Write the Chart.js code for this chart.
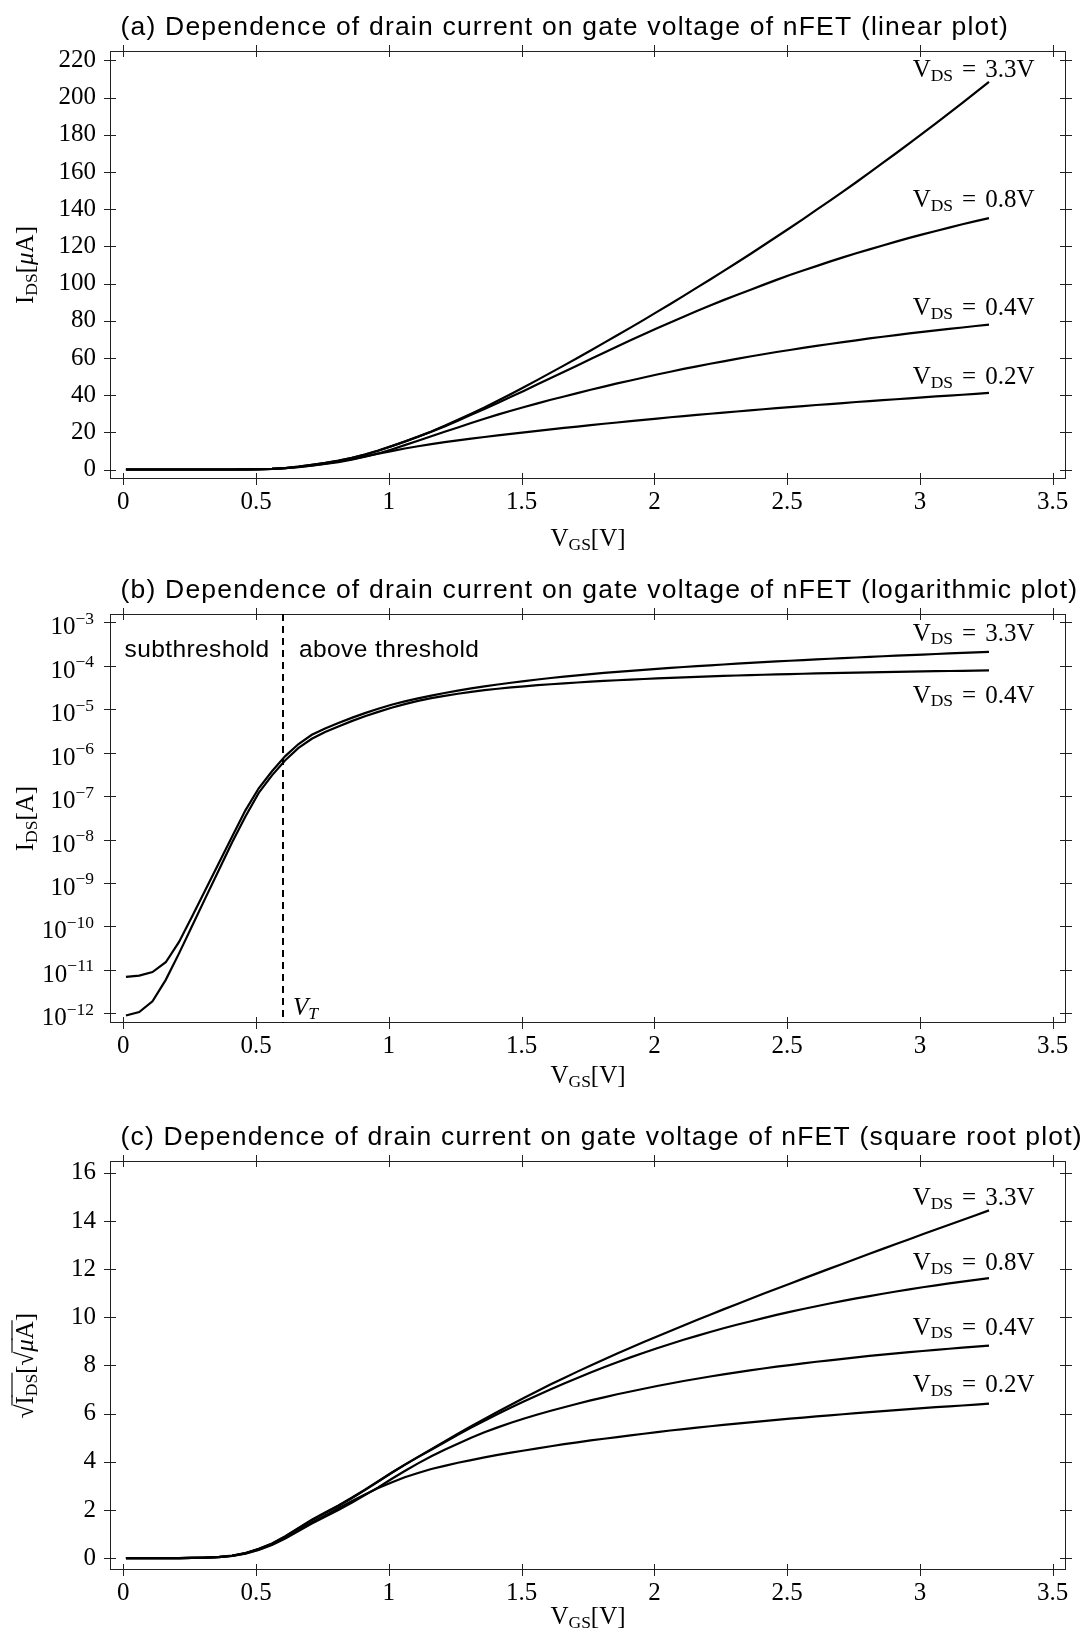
<!DOCTYPE html>
<html>
<head>
<meta charset="utf-8">
<script src="https://cdn.jsdelivr.net/npm/chart.js@4.4.1/dist/chart.umd.min.js"></script>
<style>
  body { margin: 0; background: #fff; }
  .panel { position: absolute; left: 0; width: 1085px; }
</style>
</head>
<body>
<div class="panel" style="top:0;height:560px"><canvas id="linear" width="1085" height="560"></canvas></div>
<div class="panel" style="top:560px;height:540px"><canvas id="log" width="1085" height="540"></canvas></div>
<div class="panel" style="top:1100px;height:529px"><canvas id="sqrt" width="1085" height="529"></canvas></div>
<script>
// gate voltage V_GS [V]
const vgs = [0.01, 0.06, 0.11, 0.16, 0.21, 0.26, 0.31, 0.36, 0.41, 0.46,
  0.51, 0.56, 0.61, 0.66, 0.71, 0.76, 0.81, 0.86, 0.91, 0.96,
  1.01, 1.06, 1.11, 1.16, 1.21, 1.26, 1.31, 1.36, 1.41, 1.46,
  1.51, 1.56, 1.61, 1.66, 1.71, 1.76, 1.81, 1.86, 1.91, 1.96,
  2.01, 2.06, 2.11, 2.16, 2.21, 2.26, 2.31, 2.36, 2.41, 2.46,
  2.51, 2.56, 2.61, 2.66, 2.71, 2.76, 2.81, 2.86, 2.91, 2.96,
  3.01, 3.06, 3.11, 3.16, 3.21, 3.26];

// drain current I_DS [uA]
const idsVds02 = [2.0e-6, 2.3e-6, 3.5e-6, 8.0e-6, 3.0e-5, 1.3e-4, 5.6e-4, 2.3e-3, 9.8e-3, 4.0e-2,
  0.134, 0.33, 0.72, 1.36, 2.2, 3.15, 4.3, 5.6, 7.0, 8.5,
  9.9, 11.3, 12.5, 13.7, 14.7, 15.7, 16.6, 17.5, 18.4, 19.2,
  20.0, 20.8, 21.6, 22.4, 23.1, 23.9, 24.6, 25.3, 26.0, 26.7,
  27.4, 28.1, 28.7, 29.4, 30.0, 30.6, 31.2, 31.8, 32.4, 33.0,
  33.6, 34.1, 34.7, 35.2, 35.7, 36.3, 36.8, 37.3, 37.8, 38.3,
  38.8, 39.3, 39.7, 40.2, 40.7, 41.2];
const idsVds04 = [8.9e-7, 1.07e-6, 1.9e-6, 5.9e-6, 2.4e-5, 1.05e-4, 4.6e-4, 2.0e-3, 8.7e-3, 3.4e-2,
  0.118, 0.30, 0.67, 1.28, 2.08, 2.97, 4.0, 5.3, 6.85, 8.65,
  10.8, 13.1, 15.5, 17.9, 20.3, 22.6, 25.0, 27.3, 29.5, 31.6,
  33.6, 35.6, 37.5, 39.3, 41.1, 42.9, 44.6, 46.3, 47.9, 49.5,
  51.1, 52.6, 54.1, 55.5, 56.9, 58.2, 59.5, 60.8, 62.0, 63.2,
  64.3, 65.4, 66.5, 67.5, 68.5, 69.5, 70.5, 71.4, 72.3, 73.2,
  74.0, 74.8, 75.6, 76.4, 77.2, 77.9];
const idsVds08 = [3.0e-6, 3.3e-6, 4.5e-6, 1.0e-5, 3.4e-5, 1.4e-4, 6.0e-4, 2.5e-3, 1.05e-2, 4.3e-2,
  0.142, 0.355, 0.79, 1.52, 2.48, 3.5, 4.7, 6.2, 8.0, 10.1,
  12.5, 15.0, 17.6, 20.3, 23.2, 26.2, 29.4, 32.6, 35.8, 39.1,
  42.4, 45.8, 49.2, 52.6, 56.0, 59.4, 62.8, 66.2, 69.5, 72.8,
  76.0, 79.1, 82.2, 85.2, 88.2, 91.1, 93.9, 96.6, 99.3, 102.0,
  104.6, 107.0, 109.4, 111.8, 114.1, 116.3, 118.4, 120.5, 122.6, 124.6,
  126.5, 128.3, 130.1, 131.9, 133.6, 135.2];
const idsVds33 = [6.9e-6, 7.4e-6, 8.9e-6, 1.5e-5, 4.4e-5, 1.74e-4, 7.1e-4, 2.9e-3, 1.17e-2, 4.7e-2,
  0.151, 0.372, 0.83, 1.58, 2.57, 3.6, 4.8, 6.3, 8.1, 10.2,
  12.6, 15.1, 17.7, 20.5, 23.5, 26.7, 30.0, 33.4, 37.0, 40.6,
  44.4, 48.2, 52.1, 56.0, 60.0, 64.0, 68.1, 72.2, 76.3, 80.5,
  84.8, 89.0, 93.4, 97.8, 102.2, 106.7, 111.2, 115.8, 120.5, 125.2,
  129.9, 134.7, 139.6, 144.5, 149.5, 154.5, 159.7, 164.9, 170.1, 175.4,
  180.8, 186.2, 191.7, 197.2, 202.8, 208.5];

const vdsLabels = ['0.2', '0.4', '0.8', '3.3'];
const thresholdVoltage = 0.6;

// tick labels
const xTicks = [0, 0.5, 1, 1.5, 2, 2.5, 3, 3.5];
const linTicks = [0, 20, 40, 60, 80, 100, 120, 140, 160, 180, 200, 220];
const logExps = [-12, -11, -10, -9, -8, -7, -6, -5, -4, -3];
const sqrtTicks = [0, 2, 4, 6, 8, 10, 12, 14, 16];

const SERIF = '"Liberation Serif", serif';
const SANS = '"Liberation Sans", Arial, sans-serif';
const FS = 25;
const tickFont = { family: SERIF, size: FS, lineHeight: 1.2 };

function pts(arr, k) {
    return vgs.map((v, i) => ({ x: v, y: arr[i] * k }));
}
function rootPts(arr) {
    return vgs.map((v, i) => ({ x: v, y: Math.sqrt(arr[i]) }));
}

// 첨자 있는 텍스트 그리기
function fontOf(p, size) {
    const s = (p.sub || p.sup) ? size * 0.7 : size;
    return (p.it ? 'italic ' : '') + s + 'px ' + SERIF;
}
function drawRich(ctx, parts, x, y, size, align) {
    let w = 0;
    parts.forEach(p => {
        if (p.gap) { w += p.gap; return; }
        ctx.font = fontOf(p, size);
        p.w = ctx.measureText(p.t).width;
        w += p.w;
    });
    let cx = align === 'right' ? x - w : align === 'center' ? x - w / 2 : x;
    ctx.textAlign = 'left';
    ctx.textBaseline = 'alphabetic';
    parts.forEach(p => {
        if (p.gap) { cx += p.gap; return; }
        ctx.font = fontOf(p, size);
        const dy = p.sub ? size * 0.15 : p.sup ? -size * 0.42 : 0;
        ctx.fillText(p.t, cx, y + dy);
        if (p.bar) {
            ctx.beginPath();
            ctx.lineWidth = 1.3;
            ctx.moveTo(cx - 1, y - size * 0.84);
            ctx.lineTo(cx + p.w + 1, y - size * 0.84);
            ctx.stroke();
        }
        cx += p.w;
    });
}

function sansText(ctx, text, x, y, size, spacing) {
    ctx.font = size + 'px ' + SANS;
    ctx.letterSpacing = spacing + 'px';
    ctx.textAlign = 'left';
    ctx.textBaseline = 'alphabetic';
    ctx.fillText(text, x, y);
    ctx.letterSpacing = '0px';
}

const decor = {
    id: 'decor',
    afterDraw(chart, args, o) {
        const ctx = chart.ctx;
        const a = chart.chartArea;
        const x = chart.scales.x, y = chart.scales.y;
        ctx.save();
        ctx.strokeStyle = '#222';
        ctx.fillStyle = '#000';
        ctx.lineWidth = 1;
        ctx.strokeRect(a.left + 0.5, a.top + 0.5, a.right - a.left - 1, a.bottom - a.top - 1);

        // 네 변 모두 눈금
        ctx.beginPath();
        x.ticks.forEach(t => {
            const px = Math.round(x.getPixelForValue(t.value)) + 0.5;
            ctx.moveTo(px, a.top - 6); ctx.lineTo(px, a.top + 6);
            ctx.moveTo(px, a.bottom - 6); ctx.lineTo(px, a.bottom + 6);
        });
        y.ticks.forEach(t => {
            const py = Math.round(y.getPixelForValue(t.value)) + 0.5;
            ctx.moveTo(a.left - 6, py); ctx.lineTo(a.left + 6, py);
            ctx.moveTo(a.right - 6, py); ctx.lineTo(a.right + 6, py);
        });
        ctx.stroke();

        // 로그 눈금 라벨
        if (o.logLabels) {
            y.ticks.forEach((t, i) => {
                const py = y.getPixelForValue(t.value);
                drawRich(ctx, [{ t: '10' }, { t: '\u2212' + String(-logExps[i]), sup: true }], 94, py + 12, FS, 'right');
            });
        }

        // 제목
        sansText(ctx, o.title, 120.5, a.top - 16.5, 26.5, 1.2);

        // 축 제목
        drawRich(ctx, [{ t: 'V' }, { t: 'GS', sub: true }, { t: '[V]' }], (a.left + a.right) / 2, a.bottom + o.xTitleDy + 8.3, FS, 'center');
        ctx.save();
        ctx.translate(33, (a.top + a.bottom) / 2);
        ctx.rotate(-Math.PI / 2);
        drawRich(ctx, o.yTitle, 0, 0, FS, 'center');
        ctx.restore();

        // 곡선 라벨
        o.labels.forEach(l => {
            const els = chart.getDatasetMeta(l.ds).data;
            const el = els[els.length - 1];
            drawRich(ctx, [{ t: 'V' }, { t: 'DS', sub: true }, { gap: 9 }, { t: '=' }, { gap: 9 }, { t: l.text + 'V' }],
                el.x + 45.5, el.y + l.dy + 8.3, FS, 'right');
        });

        // 문턱전압 표시
        if (o.threshold) {
            const px = Math.round(x.getPixelForValue(thresholdVoltage));
            ctx.beginPath();
            ctx.setLineDash([7, 5]);
            ctx.lineWidth = 2;
            ctx.strokeStyle = '#000';
            ctx.moveTo(px, a.top);
            ctx.lineTo(px, a.bottom);
            ctx.stroke();
            ctx.setLineDash([]);
            drawRich(ctx, [{ t: 'V', it: true }, { t: 'T', it: true, sub: true }], px + 10, a.bottom - 8, FS, 'left');
            sansText(ctx, 'subthreshold', 124.5, a.top + 43, 24.5, 0.4);
            sansText(ctx, 'above threshold', px + 16, a.top + 43, 24.5, 0.4);
        }
        ctx.restore();
    }
};

function yScale(extra) {
    return Object.assign({
        afterFit: s => { s.width = 110; },
        grid: { display: false, drawTicks: false },
        border: { display: false },
        ticks: { font: tickFont, color: '#000', padding: 14, autoSkip: false, callback: v => String(v) }
    }, extra);
}

function panel(id, o) {
    return new Chart(document.getElementById(id), {
        type: 'line',
        data: {
            datasets: o.series.map(s => ({
                data: s, borderColor: '#000', borderWidth: 2.2,
                pointRadius: 0, tension: 0, fill: false
            }))
        },
        options: {
            responsive: false,
            animation: false,
            layout: { padding: { top: o.top, right: 19, left: 0, bottom: 0 } },
            plugins: { legend: { display: false }, tooltip: { enabled: false }, decor: o.decor },
            scales: {
                x: {
                    type: 'linear', min: -0.05, max: 3.55,
                    afterBuildTicks: s => { s.ticks = xTicks.map(v => ({ value: v })); },
                    afterFit: s => { s.height = o.xh; },
                    grid: { display: false, drawTicks: false },
                    border: { display: false },
                    ticks: { font: tickFont, color: '#000', padding: 8, maxRotation: 0, minRotation: 0, autoSkip: false, callback: v => String(v) }
                },
                y: o.y
            }
        },
        plugins: [decor]
    });
}

// (a) 선형
panel('linear', {
    top: 51, xh: 81,
    series: [pts(idsVds02, 1), pts(idsVds04, 1), pts(idsVds08, 1), pts(idsVds33, 1)],
    y: yScale({ type: 'linear', min: -5.1, max: 225.1, afterBuildTicks: s => { s.ticks = linTicks.map(v => ({ value: v })); } }),
    decor: {
        title: '(a) Dependence of drain current on gate voltage of nFET (linear plot)',
        xTitleDy: 59,
        yTitle: [{ t: 'I' }, { t: 'DS', sub: true }, { t: '[' }, { t: '\u03bc', it: true }, { t: 'A]' }],
        labels: [
            { ds: 3, text: vdsLabels[3], dy: -13 },
            { ds: 2, text: vdsLabels[2], dy: -19 },
            { ds: 1, text: vdsLabels[1], dy: -18 },
            { ds: 0, text: vdsLabels[0], dy: -17 }
        ]
    }
});

// (b) 로그
panel('log', {
    top: 54, xh: 77,
    series: [pts(idsVds33, 1e-6), pts(idsVds04, 1e-6)],
    y: yScale({
        type: 'logarithmic', min: Math.pow(10, -12.19), max: Math.pow(10, -2.81),
        afterBuildTicks: s => { s.ticks = logExps.map(e => ({ value: Math.pow(10, e) })); },
        ticks: { display: false }
    }),
    decor: {
        title: '(b) Dependence of drain current on gate voltage of nFET (logarithmic plot)',
        xTitleDy: 52,
        logLabels: true,
        threshold: true,
        yTitle: [{ t: 'I' }, { t: 'DS', sub: true }, { t: '[A]' }],
        labels: [
            { ds: 0, text: vdsLabels[3], dy: -19.6 },
            { ds: 1, text: vdsLabels[1], dy: 24 }
        ]
    }
});

// (c) 제곱근
panel('sqrt', {
    top: 61, xh: 59,
    series: [rootPts(idsVds02), rootPts(idsVds04), rootPts(idsVds08), rootPts(idsVds33)],
    y: yScale({ type: 'linear', min: -0.49, max: 16.49, afterBuildTicks: s => { s.ticks = sqrtTicks.map(v => ({ value: v })); } }),
    decor: {
        title: '(c) Dependence of drain current on gate voltage of nFET (square root plot)',
        xTitleDy: 46,
        yTitle: [{ t: '\u221a' }, { t: 'I', bar: true }, { t: 'DS', sub: true, bar: true }, { t: '[' }, { t: '\u221a' },
            { t: '\u03bc', it: true, bar: true }, { t: 'A', bar: true }, { t: ']' }],
        labels: [
            { ds: 3, text: vdsLabels[3], dy: -13.3 },
            { ds: 2, text: vdsLabels[2], dy: -16.6 },
            { ds: 1, text: vdsLabels[1], dy: -19.3 },
            { ds: 0, text: vdsLabels[0], dy: -20 }
        ]
    }
});
</script>
</body>
</html>
